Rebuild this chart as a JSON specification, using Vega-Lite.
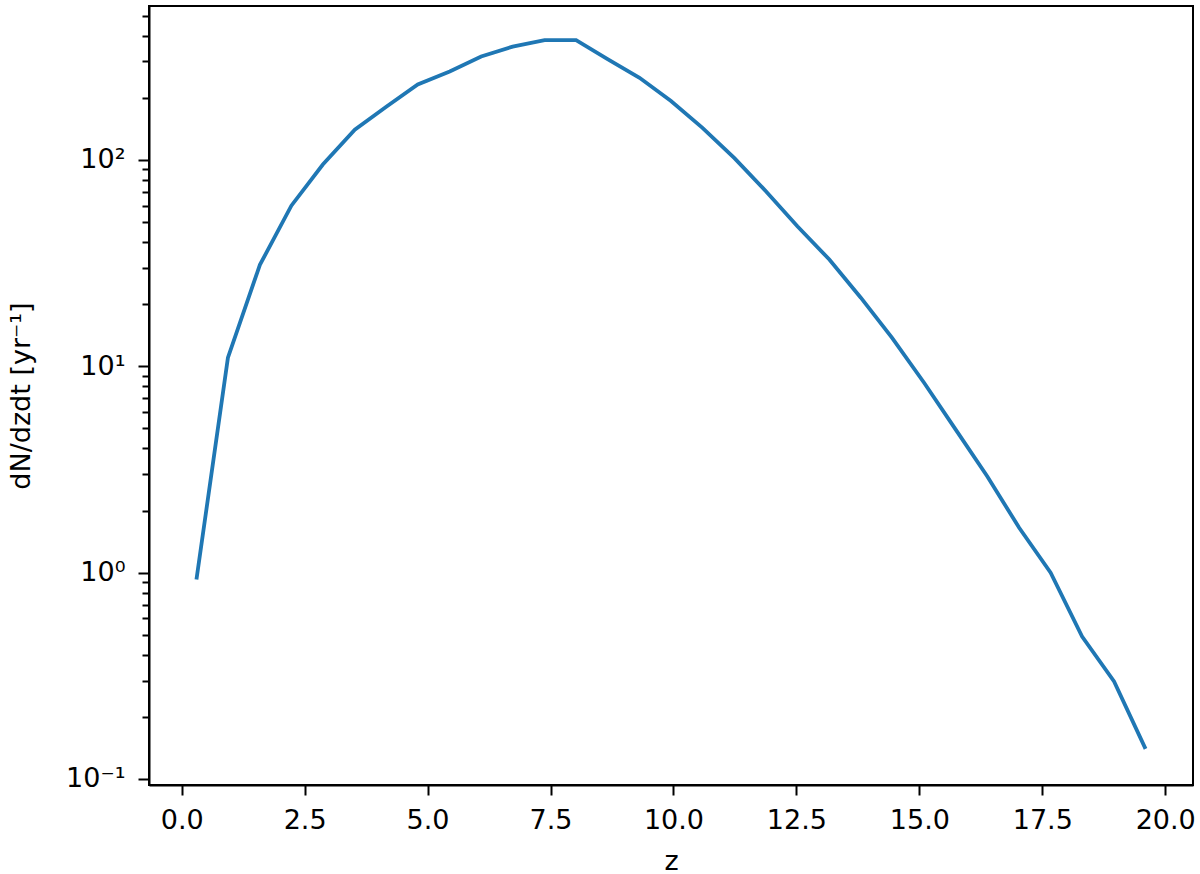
{
  "$schema": "https://vega.github.io/schema/vega-lite/v6.json",
  "width": 1044,
  "height": 779,
  "autosize": {"type": "none"},
  "padding": {"left": 149, "top": 6, "right": 7, "bottom": 89},
  "background": "white",
  "config": {
    "view": {"stroke": "black", "strokeWidth": 2},
    "axis": {
      "domainColor": "black",
      "domainWidth": 2,
      "tickColor": "black",
      "tickWidth": 2,
      "labelColor": "black",
      "titleColor": "black",
      "labelFont": "DejaVu Sans",
      "titleFont": "DejaVu Sans",
      "labelFontSize": 27,
      "titleFontSize": 27,
      "titleFontWeight": "normal",
      "grid": false
    }
  },
  "data": {
    "values": [
      {"z": 0.30, "rate": 0.925},
      {"z": 0.94, "rate": 11.0},
      {"z": 1.59, "rate": 31},
      {"z": 2.23, "rate": 60},
      {"z": 2.87, "rate": 95},
      {"z": 3.52, "rate": 140},
      {"z": 4.16, "rate": 181},
      {"z": 4.80, "rate": 232},
      {"z": 5.45, "rate": 268},
      {"z": 6.09, "rate": 317},
      {"z": 6.73, "rate": 354},
      {"z": 7.38, "rate": 381},
      {"z": 8.02, "rate": 381},
      {"z": 8.66, "rate": 308},
      {"z": 9.31, "rate": 250},
      {"z": 9.95, "rate": 193},
      {"z": 10.59, "rate": 143},
      {"z": 11.24, "rate": 102},
      {"z": 11.88, "rate": 70.5},
      {"z": 12.52, "rate": 47.7},
      {"z": 13.17, "rate": 32.9},
      {"z": 13.81, "rate": 21.5},
      {"z": 14.45, "rate": 13.7},
      {"z": 15.10, "rate": 8.3},
      {"z": 15.74, "rate": 4.93},
      {"z": 16.38, "rate": 2.93},
      {"z": 17.03, "rate": 1.65},
      {"z": 17.67, "rate": 1.0},
      {"z": 18.31, "rate": 0.49},
      {"z": 18.96, "rate": 0.297},
      {"z": 19.60, "rate": 0.14}
    ]
  },
  "encoding": {
    "x": {
      "field": "z",
      "type": "quantitative",
      "scale": {"domain": [-0.665, 20.565], "nice": false, "zero": false},
      "axis": {
        "values": [0, 2.5, 5, 7.5, 10, 12.5, 15, 17.5, 20],
        "format": ".1f",
        "title": "z",
        "tickSize": 10,
        "labelPadding": 12,
        "titlePadding": 15
      }
    }
  },
  "layer": [
    {
      "mark": {"type": "line", "color": "#1f77b4", "strokeWidth": 3.8, "clip": true},
      "encoding": {
        "y": {
          "field": "rate",
          "type": "quantitative",
          "scale": {"type": "log", "domain": [0.0935, 557], "nice": false},
          "axis": {
            "orient": "left",
            "values": [0.1, 1, 10, 100],
            "labelExpr": "datum.value > 50 ? '10²' : datum.value > 5 ? '10¹' : datum.value > 0.5 ? '10⁰' : '10⁻¹'",
            "tickSize": 11,
            "labelPadding": 13,
            "title": "dN/dzdt [yr⁻¹]",
            "titlePadding": 30
          }
        }
      }
    },
    {
      "mark": {"type": "line", "strokeOpacity": 0},
      "encoding": {
        "y": {
          "field": "rate",
          "type": "quantitative",
          "axis": {
            "orient": "left",
            "values": [0.2, 0.3, 0.4, 0.5, 0.6, 0.7, 0.8, 0.9, 2, 3, 4, 5, 6, 7, 8, 9, 20, 30, 40, 50, 60, 70, 80, 90, 200, 300, 400, 500],
            "labels": false,
            "domain": false,
            "tickSize": 7,
            "title": null
          }
        }
      }
    }
  ],
  "resolve": {"axis": {"y": "independent"}}
}
